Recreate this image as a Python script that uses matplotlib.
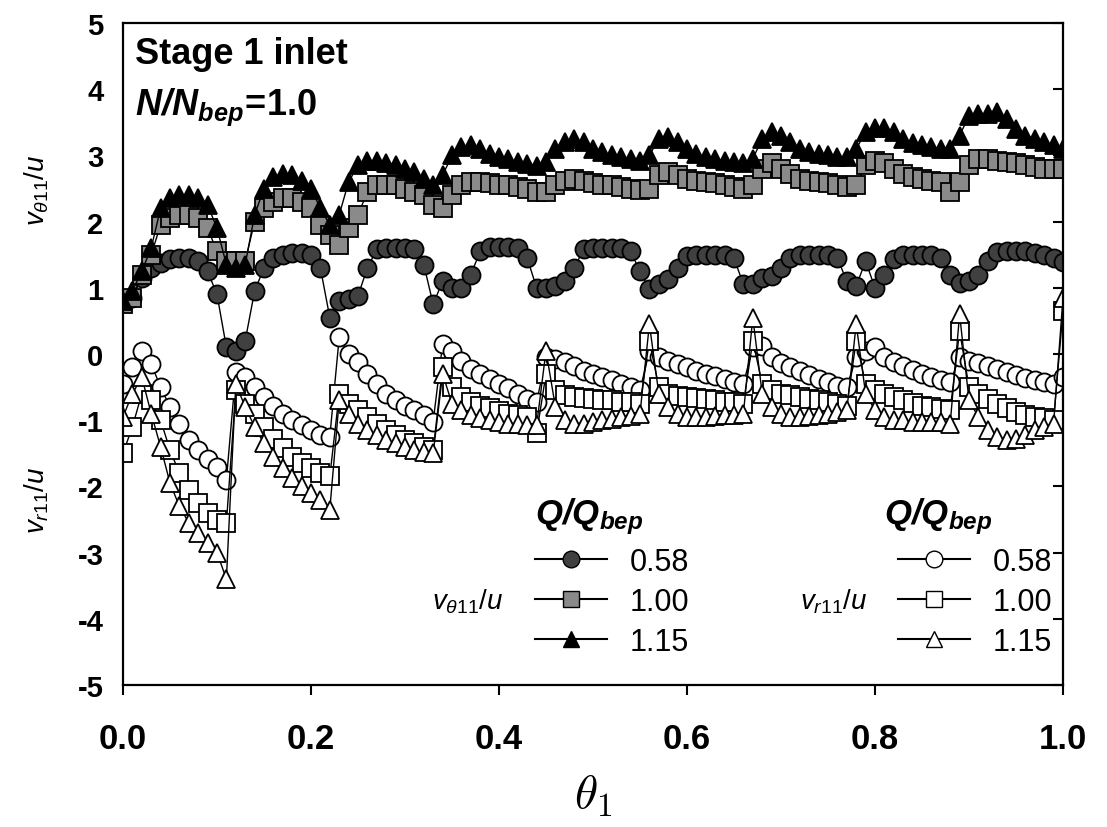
import numpy as np
import matplotlib
matplotlib.use('Agg')
import matplotlib.pyplot as plt
from matplotlib.lines import Line2D

plt.rcParams['font.family'] = ['Liberation Sans', 'DejaVu Sans']
plt.rcParams['axes.unicode_minus'] = False
plt.rcParams['mathtext.fontset'] = 'custom'
plt.rcParams['mathtext.rm'] = 'Liberation Sans'
plt.rcParams['mathtext.it'] = 'Liberation Sans:italic'
plt.rcParams['mathtext.bf'] = 'Liberation Sans:bold:italic'
plt.rcParams['mathtext.sf'] = 'Liberation Sans:bold'

# sampling positions along theta_1
theta = np.linspace(0, 1, 101)

# v_theta11/u
vt_058 = [0.8, 0.85, 1.15, 1.3, 1.38, 1.43, 1.45, 1.45, 1.4, 1.25, 0.9, 0.1,
          0.05, 0.2, 0.95, 1.3, 1.45, 1.5, 1.52, 1.52, 1.5, 1.3, 0.55,
          0.8, 0.83, 0.88, 1.3, 1.58, 1.6, 1.6, 1.6, 1.58, 1.35, 0.75,
          1.1, 1.0, 1.0, 1.2, 1.55, 1.62, 1.62, 1.62, 1.6, 1.45, 1.0,
          1.0, 1.02, 1.1, 1.3, 1.58, 1.6, 1.6, 1.6, 1.6, 1.55, 1.25,
          0.98, 1.05, 1.13, 1.3, 1.48, 1.5, 1.5, 1.5, 1.5, 1.45, 1.05,
          1.05, 1.15, 1.18, 1.3, 1.45, 1.5, 1.5, 1.5, 1.5, 1.45, 1.1,
          1.03, 1.4, 1.0, 1.2, 1.44, 1.5, 1.5, 1.5, 1.5, 1.45, 1.2,
          1.08, 1.1, 1.2, 1.4, 1.54, 1.55, 1.55, 1.55, 1.52, 1.5, 1.45,
          1.39]
vt_100 = [0.75, 0.85, 1.2, 1.5, 1.95, 2.05, 2.1, 2.1, 2.05, 1.9, 1.55, 1.4,
          1.4, 1.4, 2.0, 2.2, 2.3, 2.35, 2.35, 2.3, 2.2, 1.95, 1.8,
          1.65, 1.9, 2.1, 2.45, 2.55, 2.55, 2.55, 2.5, 2.45, 2.4, 2.25,
          2.2, 2.4, 2.55, 2.6, 2.6, 2.58, 2.55, 2.55, 2.52, 2.5, 2.45,
          2.45, 2.55, 2.62, 2.65, 2.62, 2.58, 2.55, 2.55, 2.52, 2.5, 2.48,
          2.5, 2.7, 2.75, 2.7, 2.65, 2.62, 2.6, 2.58, 2.55, 2.52, 2.5,
          2.55, 2.8, 2.88, 2.8, 2.72, 2.65, 2.62, 2.6, 2.58, 2.55, 2.52,
          2.55, 2.85, 2.92, 2.88, 2.8, 2.72, 2.68, 2.65, 2.62, 2.6, 2.45,
          2.6, 2.85, 2.95, 2.95, 2.92, 2.9, 2.88, 2.85, 2.82, 2.8, 2.8,
          2.8]
vt_115 = [0.8, 0.95, 1.25, 1.6, 2.2, 2.35, 2.4, 2.4, 2.35, 2.25, 1.9, 1.35,
          1.3, 1.35, 2.1, 2.5, 2.68, 2.72, 2.7, 2.62, 2.5, 2.2, 1.95,
          2.1, 2.6, 2.85, 2.92, 2.92, 2.88, 2.85, 2.8, 2.75, 2.65, 2.55,
          2.7, 3.0, 3.12, 3.15, 3.1, 3.02, 2.98, 2.95, 2.9, 2.87, 2.84,
          2.9, 3.1, 3.2, 3.25, 3.2, 3.1, 3.05, 3.0, 2.98, 2.95, 2.92,
          3.0, 3.25, 3.28, 3.2, 3.1, 3.02, 2.98, 2.95, 2.92, 2.9, 2.88,
          2.95, 3.25, 3.35, 3.3, 3.2, 3.1, 3.05, 3.02, 3.0, 2.98, 2.98,
          3.1, 3.35, 3.42, 3.42, 3.35, 3.25, 3.18, 3.15, 3.12, 3.1, 3.1,
          3.3, 3.6, 3.62, 3.62, 3.65, 3.55, 3.4, 3.3, 3.25, 3.2, 3.15,
          3.1]

# v_r11/u
vr_058 = [-0.45, -0.2, 0.05, -0.15, -0.5, -0.8, -1.05, -1.3, -1.45, -1.58, -1.7, -1.9,
          -0.27, -0.35, -0.5, -0.65, -0.78, -0.9, -1.0, -1.08, -1.15, -1.22, -1.25,
          0.25, 0.0, -0.12, -0.3, -0.45, -0.6, -0.7, -0.78, -0.85, -0.92, -1.02,
          0.15, 0.05, -0.1, -0.22, -0.3, -0.38, -0.45, -0.52, -0.6, -0.68, -0.73,
          -0.05, -0.08, -0.12, -0.18, -0.25, -0.3, -0.35, -0.4, -0.45, -0.5, -0.55,
          0.05, -0.05, -0.1, -0.15, -0.2, -0.25, -0.3, -0.33, -0.38, -0.42, -0.45,
          0.1, 0.12, -0.05, -0.14, -0.2, -0.26, -0.32, -0.38, -0.43, -0.48, -0.5,
          -0.05, 0.05, 0.1, -0.05, -0.12, -0.18, -0.24, -0.3, -0.35, -0.4, -0.42,
          -0.05, -0.1, -0.14, -0.18, -0.22, -0.27, -0.32, -0.36, -0.4, -0.43, -0.45,
          -0.35]
vr_100 = [-1.5, -1.1, -0.6, -0.7, -1.0, -1.45, -1.8, -2.05, -2.25, -2.4, -2.5, -2.55,
          -0.55, -0.75, -0.9, -1.1, -1.28, -1.42, -1.55, -1.65, -1.72, -1.8, -1.85,
          -0.6, -0.75, -0.85, -0.95, -1.05, -1.15, -1.22, -1.3, -1.35, -1.4, -1.45,
          -0.2, -0.5, -0.65, -0.72, -0.78, -0.82, -0.86, -0.9, -0.92, -0.95, -1.2,
          -0.3, -0.55, -0.62, -0.65, -0.67, -0.68, -0.7, -0.7, -0.72, -0.72, -0.75,
          0.2, -0.5, -0.6, -0.63, -0.65, -0.67, -0.68, -0.7, -0.72, -0.72, -0.75,
          0.2, -0.45, -0.55, -0.6, -0.62, -0.65, -0.68, -0.7, -0.72, -0.75, -0.78,
          0.2, -0.45, -0.55, -0.6, -0.65, -0.7, -0.74, -0.78, -0.8, -0.83, -0.85,
          0.35, -0.5, -0.6, -0.68, -0.75, -0.82, -0.88, -0.92, -0.95, -0.97, -1.0,
          0.65]
vr_115 = [-0.95, -0.6, -0.35, -0.9, -1.4, -1.95, -2.3, -2.55, -2.7, -2.85, -3.0, -3.4,
          -0.45, -0.8, -1.1, -1.35, -1.55, -1.72, -1.88, -2.0, -2.1, -2.2, -2.35,
          -0.7, -0.9, -1.05, -1.15, -1.22, -1.3, -1.35, -1.4, -1.45, -1.48, -1.5,
          -0.3, -0.75, -0.85, -0.92, -0.97, -1.0, -1.02, -1.05, -1.05, -1.07, -1.08,
          0.05, -0.8, -1.0, -1.05, -1.05, -1.02, -1.0, -0.98, -0.95, -0.93, -0.9,
          0.45, -0.6, -0.8, -0.9, -0.95, -0.95, -0.95, -0.93, -0.92, -0.92, -0.9,
          0.55, -0.6, -0.8, -0.9, -0.95, -0.95, -0.93, -0.92, -0.9, -0.88, -0.85,
          0.45, -0.6, -0.85, -0.95, -1.0, -1.0, -1.02, -1.02, -1.03, -1.03, -1.05,
          0.6, -0.7, -0.95, -1.15, -1.25, -1.3, -1.28, -1.22, -1.15, -1.1, -1.05,
          0.85]

flow_labels = ['0.58', '1.00', '1.15']

W, H = 1107, 828
fig = plt.figure(figsize=(W / 100, H / 100), dpi=100)
ax = fig.add_axes([123 / W, 1 - 686 / H, 940 / W, 662 / H])

ms = 13
styles_t = [dict(marker='o', mfc='#404040'), dict(marker='s', mfc='#8a8a8a'),
            dict(marker='^', mfc='black')]
styles_r = [dict(marker='o', mfc='white'), dict(marker='s', mfc='white'),
            dict(marker='^', mfc='white')]

for vals, st in zip([vr_058, vr_100, vr_115], styles_r):
    ax.plot(theta, vals, color='black', lw=1, mec='black', mew=1.3, ms=ms, **st)
for vals, st in zip([vt_058, vt_100, vt_115], styles_t):
    ax.plot(theta, vals, color='black', lw=1, mec='black', mew=1.3, ms=ms, **st)

ax.set_xlim(0, 1)
ax.set_ylim(-5, 5)
ax.set_xticks([0, 0.2, 0.4, 0.6, 0.8, 1.0])
ax.set_xticklabels(['0.0', '0.2', '0.4', '0.6', '0.8', '1.0'])
ax.set_yticks(range(-5, 6))
for s in ax.spines.values():
    s.set_linewidth(1.6)
ax.tick_params(axis='x', direction='out', length=7, width=1.5, pad=20,
               labelsize=25)
ax.tick_params(axis='y', direction='in', length=7, width=1.5, pad=14,
               labelsize=21, left=False, right=True)
for lab in ax.get_xticklabels() + ax.get_yticklabels():
    lab.set_fontweight('bold')

ax.set_xlabel(r'$\theta_1$', fontsize=34, math_fontfamily='cm', labelpad=12)

fig.text(37 / W, 1 - 190 / H, r'$v_{\theta 11}/u$', rotation=90,
         ha='center', va='center', fontsize=20)
fig.text(37 / W, 1 - 500 / H, r'$v_{r11}/u$', rotation=90,
         ha='center', va='center', fontsize=20)

fig.text(135 / W, 1 - 64 / H, 'Stage 1 inlet', fontsize=26,
         fontweight='bold', va='baseline')
fig.text(135 / W, 1 - 115 / H,
         r'$\mathbf{N/N}_{\mathbf{bep}}\!\mathsf{=}\!\mathsf{1.0}$',
         fontsize=26, va='baseline')

# legends
h_t = [Line2D([], [], color='black', lw=1.5, mec='black', ms=12, **st)
       for st in styles_t]
h_r = [Line2D([], [], color='black', lw=1.5, mec='black', ms=12, **st)
       for st in styles_r]
leg_kw = dict(frameon=False, fontsize=22, handlelength=2.35,
              handletextpad=0.75, labelspacing=0.33, borderpad=0,
              borderaxespad=0, numpoints=1, loc='upper left',
              bbox_transform=fig.transFigure)
leg1 = ax.legend(h_t, flow_labels, bbox_to_anchor=(535 / W, 1 - 548 / H), **leg_kw)
ax.add_artist(leg1)
ax.legend(h_r, flow_labels, bbox_to_anchor=(898 / W, 1 - 548 / H), **leg_kw)

fig.text(535 / W, 1 - 524 / H, r'$\mathbf{Q/Q}_{\mathbf{bep}}$', fontsize=25,
         va='baseline')
fig.text(884 / W, 1 - 524 / H, r'$\mathbf{Q/Q}_{\mathbf{bep}}$', fontsize=25,
         va='baseline')
fig.text(503 / W, 1 - 602 / H, r'$v_{\theta 11}/u$', ha='right', va='center',
         fontsize=20)
fig.text(867 / W, 1 - 602 / H, r'$v_{r11}/u$', ha='right', va='center',
         fontsize=20)

fig.savefig('out.png', dpi=100)
